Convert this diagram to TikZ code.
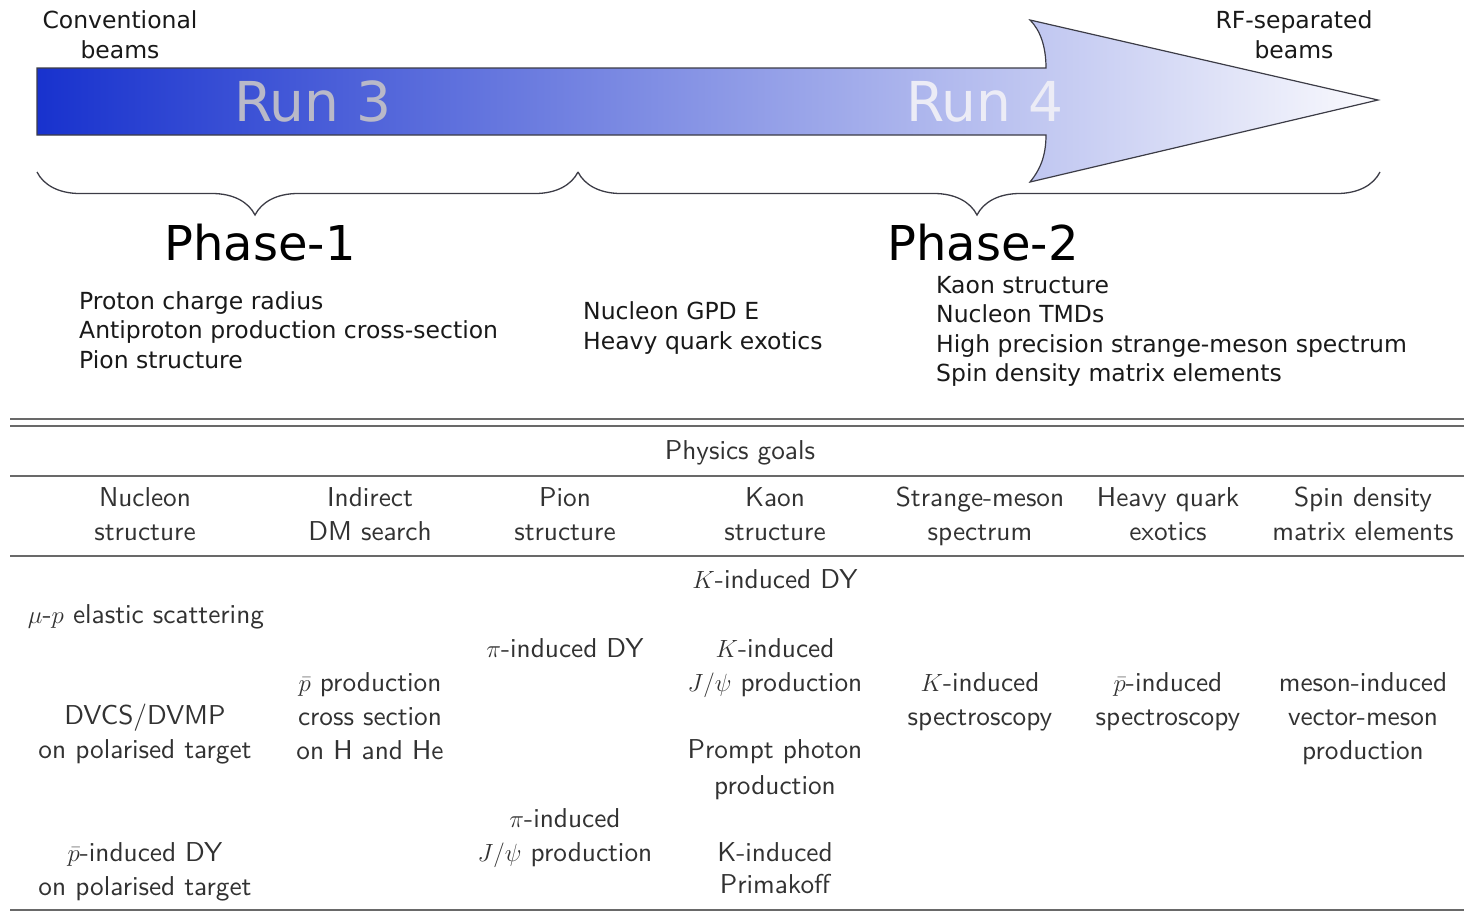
\documentclass[tikz,border=0pt]{standalone}
\usepackage{fontspec}
\newfontfamily\dv{DejaVu Sans}
\newfontfamily\tabf[Extension=.otf]{lmsans10-regular}
\usetikzlibrary{decorations.pathreplacing}
\definecolor{arrL}{RGB}{24,50,206}
\definecolor{arrM}{RGB}{122,118,220}
\definecolor{arrR}{RGB}{250,250,253}
\definecolor{txt}{RGB}{25,25,25}
\definecolor{tab}{RGB}{50,50,50}
\definecolor{rulec}{RGB}{105,105,105}
\definecolor{outl}{RGB}{60,60,70}
\begin{document}
\begin{tikzpicture}[x=1pt,y=-1pt,
  toptxt/.style={font=\dv\fontsize{23.5}{30}\selectfont, text=txt, inner sep=0pt, align=center, anchor=base},
  toplist/.style={font=\dv\fontsize{23.5}{29.5}\selectfont, text=txt, inner sep=0pt, align=left, anchor=base west},
  phase/.style={font=\dv\fontsize{48}{56}\selectfont, text=black, inner sep=0pt, anchor=base},
  runtxt/.style={font=\dv\fontsize{55}{60}\selectfont, inner sep=0pt, anchor=base},
  cell/.style={font=\tabf\fontsize{27.3}{34}\selectfont, text=tab, inner sep=0pt, align=center, anchor=base},
  trule/.style={draw=rulec, line width=2.6pt},
  bracestyle/.style={draw=outl, line width=1.3pt, decorate}
]
\useasboundingbox (0,0) rectangle (1464,914);

% ---- arrow ----
\path[left color=arrL, middle color=arrM, right color=arrR, draw=outl, line width=1.2pt]
  (37,68) -- (1046,68) .. controls (1046,46) and (1040,30) .. (1030,20)
  -- (1378,100) -- (1030,182) .. controls (1040,170) and (1046,156) .. (1046,135)
  -- (37,135) -- cycle;
\node[runtxt, text={rgb,255:red,185;green,185;blue,200}] (run3) at (313,121) {Run 3};
\node[runtxt, text={rgb,255:red,236;green,236;blue,246}] (run4) at (985,121) {Run 4};

% anchor=base of a multi-line node is the baseline of its last line
\node[toptxt] (conv) at (120,58) {Conventional\\beams};
\node[toptxt] (rfsep) at (1294,58) {RF-separated\\beams};

% ---- braces ----
\coordinate (b1s) at (37,172);
\coordinate (b1e) at (578,172);
\coordinate (b2e) at (1380,172);
\draw[bracestyle, decoration={brace, mirror, amplitude=43pt, aspect=0.403}] (b1s) -- (b1e);
\draw[bracestyle, decoration={brace, mirror, amplitude=43pt, aspect=0.4975}] (b1e) -- (b2e);

\node[phase] (ph1) at (260,260) {Phase-1};
\node[phase] (ph2) at (983,260) {Phase-2};

\node[toplist] (l1) at (79,368) {Proton charge radius\\Antiproton production cross-section\\Pion structure};
\node[toplist] (l2) at (583,349) {Nucleon GPD E\\Heavy quark exotics};
\node[toplist] (l3) at (936,381.5) {Kaon structure\\Nucleon TMDs\\High precision strange-meson spectrum\\Spin density matrix elements};

% ---- table ----
\coordinate (r1a) at (10,419); \coordinate (r1b) at (1464,419);
\coordinate (r2a) at (10,426); \coordinate (r2b) at (1464,426);
\coordinate (r3a) at (10,476); \coordinate (r3b) at (1464,476);
\coordinate (r4a) at (10,556); \coordinate (r4b) at (1464,556);
\coordinate (r5a) at (10,910); \coordinate (r5b) at (1464,910);
\draw[trule, line width=2.4pt] (r1a) -- (r1b);
\draw[trule, line width=2.4pt] (r2a) -- (r2b);
\draw[trule] (r3a) -- (r3b);
\draw[trule] (r4a) -- (r4b);
\draw[trule] (r5a) -- (r5b);

\node[cell] (pg) at (740,459) {Physics goals};

\node[cell] (h1) at (145,540) {Nucleon\\structure};
\node[cell] (h2) at (370,540) {Indirect\\DM search};
\node[cell] (h3) at (565,540) {Pion\\structure};
\node[cell] (h4) at (775,540) {Kaon\\structure};
\node[cell] (h5) at (980,540) {Strange-meson\\spectrum};
\node[cell] (h6) at (1168,540) {Heavy quark\\exotics};
\node[cell] (h7) at (1363,540) {Spin density\\matrix elements};

\node[cell] (c1a) at (146,623) {$\mu$-$p$ elastic scattering};
\node[cell] (c1b) at (145,758) {DVCS/DVMP\\on polarised target};
\node[cell] (c1c) at (145,895) {$\bar{p}$-induced DY\\on polarised target};

\node[cell] (c2a) at (370,759) {$\bar{p}$ production\\cross section\\on H and He};

\node[cell] (c3a) at (565,657) {$\pi$-induced DY};
\node[cell] (c3b) at (565,861) {$\pi$-induced\\$J/\psi$ production};

\node[cell] (c4a) at (775,588) {$K$-induced DY};
\node[cell] (c4b) at (775,691) {$K$-induced\\$J/\psi$ production};
\node[cell] (c4c) at (775,794) {Prompt photon\\[2pt]production};
\node[cell] (c4d) at (775,893) {K-induced\\[-2pt]Primakoff};

\node[cell] (c5a) at (980,725) {$K$-induced\\spectroscopy};
\node[cell] (c6a) at (1168,725) {$\bar{p}$-induced\\spectroscopy};
\node[cell] (c7a) at (1363,759) {meson-induced\\vector-meson\\production};
\end{tikzpicture}
\end{document}
